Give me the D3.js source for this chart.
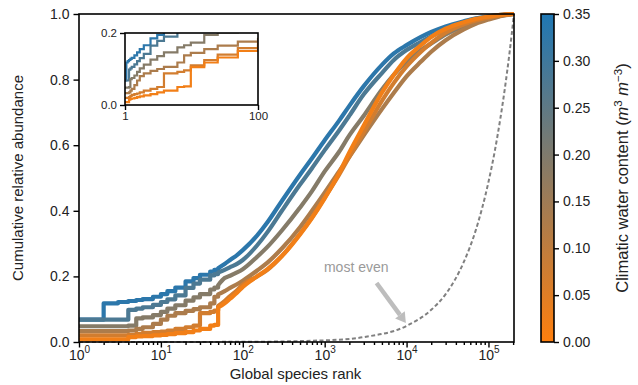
<!DOCTYPE html>
<html>
<head>
<meta charset="utf-8">
<script src="https://cdn.jsdelivr.net/npm/d3@7"></script>
<style>
  body { margin: 0; background: #fff; }
  text { font-family: "Liberation Sans", Arial, Helvetica, sans-serif; fill: #222; }
</style>
</head>
<body>
<svg id="chart" width="638" height="385"></svg>
<script>
// Species ranks at which each cumulative curve is sampled
const ranks = [1, 2, 3, 4, 5, 6, 8, 10, 12, 15, 20, 25, 30, 40, 45, 50, 60, 70, 85, 100,
  150, 200, 300, 500, 700, 1000, 1500, 2000, 3000, 5000, 7000, 1e4, 1.5e4, 2e4, 3e4, 5e4, 7e4, 1e5, 1.5e5, 2.05e5];

// Climatic water content (m3 m-3) of each site group
const waterContent = [0.33, 0.28, 0.19, 0.13, 0.07, 0.02];

// Cumulative relative abundance per group, one value per rank
const cumWater033 = [0.068, 0.118, 0.122, 0.125, 0.128, 0.131, 0.138, 0.146, 0.155, 0.166, 0.185, 0.195, 0.205, 0.215, 0.220, 0.225, 0.238, 0.250, 0.265, 0.280,
  0.325, 0.365, 0.430, 0.510, 0.560, 0.615, 0.675, 0.720, 0.780, 0.845, 0.880, 0.905, 0.930, 0.945, 0.962, 0.978, 0.987, 0.993, 0.998, 1.0];
const cumWater028 = [0.068, 0.068, 0.068, 0.098, 0.102, 0.106, 0.113, 0.122, 0.130, 0.142, 0.165, 0.178, 0.190, 0.203, 0.207, 0.212, 0.220, 0.228, 0.238, 0.250,
  0.295, 0.335, 0.400, 0.480, 0.530, 0.585, 0.645, 0.690, 0.755, 0.820, 0.860, 0.890, 0.915, 0.932, 0.952, 0.972, 0.983, 0.990, 0.997, 1.0];
const cumWater019 = [0.048, 0.048, 0.048, 0.050, 0.072, 0.075, 0.082, 0.092, 0.102, 0.112, 0.126, 0.136, 0.146, 0.160, 0.166, 0.173, 0.195, 0.202, 0.212, 0.222,
  0.260, 0.290, 0.340, 0.410, 0.460, 0.520, 0.580, 0.630, 0.690, 0.770, 0.815, 0.855, 0.890, 0.910, 0.938, 0.963, 0.977, 0.987, 0.996, 1.0];
const cumWater013 = [0.033, 0.033, 0.033, 0.035, 0.040, 0.045, 0.055, 0.068, 0.080, 0.088, 0.095, 0.100, 0.106, 0.118, 0.138, 0.145, 0.155, 0.165, 0.176, 0.187,
  0.218, 0.242, 0.285, 0.350, 0.400, 0.455, 0.520, 0.565, 0.630, 0.710, 0.760, 0.810, 0.855, 0.885, 0.920, 0.953, 0.970, 0.983, 0.995, 1.0];
const cumWater007 = [0.020, 0.020, 0.020, 0.022, 0.025, 0.028, 0.030, 0.032, 0.035, 0.040, 0.045, 0.050, 0.088, 0.092, 0.096, 0.110, 0.125, 0.140, 0.158, 0.175,
  0.200, 0.220, 0.262, 0.330, 0.380, 0.440, 0.510, 0.565, 0.640, 0.735, 0.790, 0.840, 0.885, 0.912, 0.943, 0.968, 0.980, 0.989, 0.997, 1.0];
const cumWater002 = [0.008, 0.008, 0.008, 0.015, 0.017, 0.018, 0.020, 0.022, 0.024, 0.027, 0.030, 0.035, 0.040, 0.050, 0.052, 0.105, 0.118, 0.132, 0.150, 0.168,
  0.200, 0.222, 0.262, 0.328, 0.378, 0.438, 0.515, 0.578, 0.660, 0.760, 0.815, 0.865, 0.905, 0.930, 0.955, 0.975, 0.985, 0.992, 0.998, 1.0];

// Reference curve for a perfectly even community
const evenRanks = [1, 100, 1000, 3000, 1e4, 2e4, 3e4, 5e4, 7e4, 1e5, 1.2e5, 1.4e5, 1.6e5, 1.8e5, 2.05e5];
const evenValues = [0.0, 0.0005, 0.005, 0.015, 0.049, 0.098, 0.146, 0.244, 0.341, 0.488, 0.585, 0.683, 0.780, 0.878, 1.0];

const xMajorTicks = [1, 10, 100, 1000, 1e4, 1e5];
const yTicks = [0, 0.2, 0.4, 0.6, 0.8, 1.0];
const colorTicks = [0, 0.05, 0.10, 0.15, 0.20, 0.25, 0.30, 0.35];
const insetXTicks = [1, 100];
const insetYTicks = [0, 0.2];

const series = [cumWater033, cumWater028, cumWater019, cumWater013, cumWater007, cumWater002]
  .map((vals, i) => ({ w: waterContent[i], pts: ranks.map((r, j) => ({ r, v: vals[j] })) }));

const svg = d3.select("#chart");
const W = { left: 79, right: 514, top: 14, bottom: 342 };

const x = d3.scaleLog().domain([1, 2.05e5]).range([W.left, W.right]);
const y = d3.scaleLinear().domain([0, 1]).range([W.bottom, W.top]);
const color = d3.scaleLinear().domain([0, 0.35]).range(["#ff7f0e", "#1f77b4"]).interpolate(d3.interpolateRgb);

// Stepped for the first fifty ranks, smooth beyond that
const STEP_LIMIT = 50;
function curvePath(pts, xs, ys) {
  const low = pts.filter(p => p.r <= STEP_LIMIT);
  const high = pts.filter(p => p.r >= STEP_LIMIT);
  const stepLine = d3.line().x(p => xs(p.r)).y(p => ys(p.v)).curve(d3.curveStepAfter);
  const smoothLine = d3.line().x(p => xs(p.r)).y(p => ys(p.v)).curve(d3.curveMonotoneX);
  let d = stepLine(low);
  if (high.length > 1) d += "L" + smoothLine(high).slice(1);
  return d;
}

svg.append("clipPath").attr("id", "mainClip").append("rect")
  .attr("x", W.left).attr("y", W.top - 3).attr("width", W.right - W.left).attr("height", W.bottom - W.top + 3);

// Even-community reference line
svg.append("path")
  .datum(evenRanks.map((r, i) => ({ r, v: evenValues[i] })))
  .attr("d", d3.line().x(p => x(p.r)).y(p => y(p.v)).curve(d3.curveMonotoneX))
  .attr("fill", "none").attr("stroke", "#808080").attr("stroke-width", 2)
  .attr("stroke-dasharray", "4,2.5");

const gCurves = svg.append("g").attr("clip-path", "url(#mainClip)");
gCurves.selectAll("path").data(series).join("path")
  .attr("d", s => curvePath(s.pts, x, y))
  .attr("fill", "none").attr("stroke", s => color(s.w))
  .attr("stroke-width", 4.2).attr("stroke-linejoin", "round");

// Annotation for the even curve
const note = { textR: 2430, textV: 0.226, tailR: 4300, tailV: 0.180, headR: 9800, headV: 0.058 };
svg.append("text").attr("x", x(note.textR)).attr("y", y(note.textV)).attr("text-anchor", "middle")
  .attr("dominant-baseline", "middle").style("font-size", "14px").style("fill", "#9a9a9a").text("most even");
{
  const x0 = x(note.tailR), y0 = y(note.tailV), x1 = x(note.headR), y1 = y(note.headV);
  const ang = Math.atan2(y1 - y0, x1 - x0), hl = 10, hw = 6;
  const bx = x1 - hl * Math.cos(ang), by = y1 - hl * Math.sin(ang);
  svg.append("line").attr("x1", x0).attr("y1", y0).attr("x2", bx).attr("y2", by)
    .attr("stroke", "#bdbdbd").attr("stroke-width", 4.5);
  svg.append("path").attr("d", `M${x1},${y1}L${bx + hw * Math.sin(ang)},${by - hw * Math.cos(ang)}L${bx - hw * Math.sin(ang)},${by + hw * Math.cos(ang)}Z`)
    .attr("fill", "#bdbdbd");
}

// Frame and axes
svg.append("rect").attr("x", W.left).attr("y", W.top).attr("width", W.right - W.left).attr("height", W.bottom - W.top)
  .attr("fill", "none").attr("stroke", "#000").attr("stroke-width", 1.6);

const minorTicks = [];
for (let e = 0; e <= 5; e++) for (let m = 2; m <= 9; m++) { const v = m * Math.pow(10, e); if (v <= 2.05e5) minorTicks.push(v); }

const xMinor = svg.append("g").attr("transform", `translate(0,${W.bottom})`)
  .call(d3.axisBottom(x).tickValues(minorTicks).tickSize(3).tickFormat(""));
const xMajor = svg.append("g").attr("transform", `translate(0,${W.bottom})`)
  .call(d3.axisBottom(x).tickValues(xMajorTicks).tickSize(5.5).tickPadding(5).tickFormat(""));
[xMinor, xMajor].forEach(g => { g.select(".domain").remove(); g.selectAll("line").attr("stroke", "#000").attr("stroke-width", 1.4); });
xMajor.selectAll(".tick").append("text")
  .attr("y", 18).attr("text-anchor", "middle").style("font-size", "14px")
  .each(function (d) {
    const t = d3.select(this);
    t.append("tspan").text("10");
    t.append("tspan").attr("dy", -7).style("font-size", "10px").text(Math.round(Math.log10(d)));
  });

const yAxis = svg.append("g").attr("transform", `translate(${W.left},0)`)
  .call(d3.axisLeft(y).tickValues(yTicks).tickSize(5.5).tickPadding(4).tickFormat(d3.format(".1f")));
yAxis.select(".domain").remove();
yAxis.selectAll("line").attr("stroke", "#000").attr("stroke-width", 1.4);
yAxis.selectAll("text").style("font-size", "14px").attr("fill", "#222");

svg.append("text").attr("x", (W.left + W.right) / 2 - 1).attr("y", 379).attr("text-anchor", "middle")
  .style("font-size", "15px").text("Global species rank");
svg.append("text").attr("transform", `translate(23,${(W.top + W.bottom) / 2}) rotate(-90)`).attr("text-anchor", "middle")
  .style("font-size", "15px").text("Cumulative relative abundance");

// Inset: first hundred ranks on linear axes
const I = { left: 125, right: 258, top: 33, bottom: 105 };
const xi = d3.scaleLinear().domain([1, 100]).range([I.left, I.right]);
const yi = d3.scaleLinear().domain([0, 0.2]).range([I.bottom, I.top]);
svg.append("rect").attr("x", I.left).attr("y", I.top).attr("width", I.right - I.left).attr("height", I.bottom - I.top)
  .attr("fill", "#fff").attr("stroke", "none");
svg.append("clipPath").attr("id", "insetClip").append("rect")
  .attr("x", I.left).attr("y", I.top).attr("width", I.right - I.left).attr("height", I.bottom - I.top);
const stepInset = d3.line().x(p => xi(p.r)).y(p => yi(p.v)).curve(d3.curveStepAfter);
svg.append("g").attr("clip-path", "url(#insetClip)").selectAll("path").data(series).join("path")
  .attr("d", s => stepInset(s.pts.filter(p => p.r <= 100)))
  .attr("fill", "none").attr("stroke", s => color(s.w)).attr("stroke-width", 2.2);
svg.append("rect").attr("x", I.left).attr("y", I.top).attr("width", I.right - I.left).attr("height", I.bottom - I.top)
  .attr("fill", "none").attr("stroke", "#000").attr("stroke-width", 1.6);
const xiAxis = svg.append("g").attr("transform", `translate(0,${I.bottom})`)
  .call(d3.axisBottom(xi).tickValues(insetXTicks).tickSize(5).tickPadding(2).tickFormat(d3.format("d")));
const yiAxis = svg.append("g").attr("transform", `translate(${I.left},0)`)
  .call(d3.axisLeft(yi).tickValues(insetYTicks).tickSize(5).tickPadding(3).tickFormat(d3.format(".1f")));
[xiAxis, yiAxis].forEach(g => {
  g.select(".domain").remove();
  g.selectAll("line").attr("stroke", "#000").attr("stroke-width", 1.4);
  g.selectAll("text").style("font-size", "11.5px").attr("fill", "#222");
});

// Colour bar
const C = { left: 541, width: 13 };
const cb = d3.scaleLinear().domain([0, 0.35]).range([W.bottom, W.top]);
const grad = svg.append("defs").append("linearGradient").attr("id", "cbGrad")
  .attr("x1", 0).attr("y1", 1).attr("x2", 0).attr("y2", 0);
grad.append("stop").attr("offset", 0).attr("stop-color", color(0));
grad.append("stop").attr("offset", 1).attr("stop-color", color(0.35));
svg.append("rect").attr("x", C.left).attr("y", W.top).attr("width", C.width).attr("height", W.bottom - W.top)
  .attr("fill", "url(#cbGrad)").attr("stroke", "#000").attr("stroke-width", 1.6);
const cAxis = svg.append("g").attr("transform", `translate(${C.left + C.width},0)`)
  .call(d3.axisRight(cb).tickValues(colorTicks).tickSize(5).tickPadding(4).tickFormat(d3.format(".2f")));
cAxis.select(".domain").remove();
cAxis.selectAll("line").attr("stroke", "#000").attr("stroke-width", 1.4);
cAxis.selectAll("text").style("font-size", "14px").attr("fill", "#222");

const cLabel = svg.append("text").attr("transform", `translate(628,${(W.top + W.bottom) / 2}) rotate(-90)`)
  .attr("text-anchor", "middle").style("font-size", "16.5px");
cLabel.append("tspan").text("Climatic water content (");
cLabel.append("tspan").style("font-style", "italic").text("m");
cLabel.append("tspan").attr("dy", -6.5).style("font-size", "11.5px").text("3");
cLabel.append("tspan").attr("dy", 6.5).text(" ");
cLabel.append("tspan").style("font-style", "italic").text("m");
cLabel.append("tspan").attr("dy", -6.5).style("font-size", "11.5px").text("\u22123");
cLabel.append("tspan").attr("dy", 6.5).text(")");
</script>
</body>
</html>
